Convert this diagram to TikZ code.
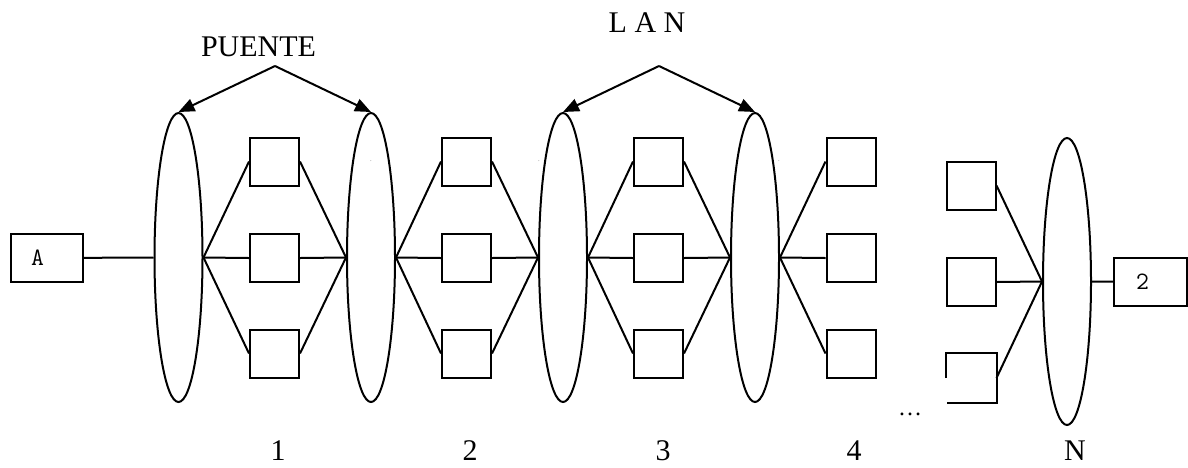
\documentclass[tikz,border=0pt]{standalone}
\usepackage{fontspec}
\setmainfont{Liberation Serif}
\usetikzlibrary{shapes.geometric,arrows.meta}

\begin{document}
\begin{tikzpicture}[x=1pt,y=-1pt,line width=2pt,
    lan/.style={draw,ellipse,inner sep=0pt,minimum width=48pt,minimum height=289pt},
    host/.style={draw,rectangle,inner sep=0pt,minimum width=49pt,minimum height=48pt},
    term/.style={draw,rectangle,inner ysep=0pt,minimum height=48pt,align=left,
      font=\fontsize{25}{27}\selectfont\ttfamily\addfontfeatures{FakeBold=2}},
    lbl/.style={inner sep=0pt,font=\fontsize{30}{34}\selectfont},
    tip/.style={-{Triangle[length=16pt,width=13pt]}}]
      \useasboundingbox (0,0) rectangle (1188,467);

      % the LANs
      \node [lan] (e1) at (178.5,257.5) {};
      \node [lan] (e2) at (371,257.5) {};
      \node [lan] (e3) at (563,257.5) {};
      \node [lan] (e4) at (755,257.5) {};
      \node [lan, minimum height=287pt] (eN) at (1067,281.5) {};

      % end stations
      \node [term, inner xsep=20pt, text width=32pt] (a) at (47,258) {A};
      \node [term, inner xsep=22pt, text width=29pt] (z) at (1150.5,282) {2};

      % bridges between the LANs
      \node [host] (h11) at (274.5,161.5) {};
      \node [host] (h12) at (274.5,258) {};
      \node [host] (h13) at (274.5,353.5) {};
      \node [host] (h21) at (466.5,161.5) {};
      \node [host] (h22) at (466.5,258) {};
      \node [host] (h23) at (466.5,353.5) {};
      \node [host] (h31) at (658.5,161.5) {};
      \node [host] (h32) at (658.5,258) {};
      \node [host] (h33) at (658.5,353.5) {};
      \node [host] (h41) at (851,161.5) {};
      \node [host] (h42) at (851,258) {};
      \node [host] (h43) at (851,353.5) {};
      \node [host] (r1) at (971,185.5) {};
      \node [host] (r2) at (971,282) {};
      \node [host, draw=none] (r3) at (971,378) {};
      \draw (r3.west) -- (r3.north west) -- (r3.north east) -- (r3.south east) -- ([xshift=1pt]r3.south west);

      \draw (a) -- (e1.west);
      \draw (e1.east) -- (h11.west);
      \draw (e1.east) -- (h12.west);
      \draw (e1.east) -- (h13.west);
      \draw (h11.east) -- (e2.west);
      \draw (h12.east) -- (e2.west);
      \draw (h13.east) -- (e2.west);
      \draw (e2.east) -- (h21.west);
      \draw (e2.east) -- (h22.west);
      \draw (e2.east) -- (h23.west);
      \draw (h21.east) -- (e3.west);
      \draw (h22.east) -- (e3.west);
      \draw (h23.east) -- (e3.west);
      \draw (e3.east) -- (h31.west);
      \draw (e3.east) -- (h32.west);
      \draw (e3.east) -- (h33.west);
      \draw (h31.east) -- (e4.west);
      \draw (h32.east) -- (e4.west);
      \draw (h33.east) -- (e4.west);
      \draw (e4.east) -- (h41.west);
      \draw (e4.east) -- (h42.west);
      \draw (e4.east) -- (h43.west);
      \draw (r1.east) -- (eN.west);
      \draw (r2.east) -- (eN.west);
      \draw (r3.east) -- (eN.west);
      \draw (eN.east) -- (z);

      % labels on top
      \node [lbl] (puente) at (258.5,47) {PUENTE};
      \node [lbl] (lan) at (647,23) {L A N};
      \coordinate (p) at (275,66);
      \coordinate (q) at (659,66);
      \draw [tip] (p) -- (e1.north);
      \draw [tip] (p) -- (e2.north);
      \draw [tip] (q) -- (e3.north);
      \draw [tip] (q) -- (e4.north);

      \node [font=\tiny] (d2) at (371,161) {.};
      \node [font=\tiny] (d3) at (539,161) {.};
      \node [font=\tiny] (d4) at (779,161) {.};

      % numbering
      \node [lbl] (n1) at (278,451) {1};
      \node [lbl] (n2) at (470,451) {2};
      \node [lbl] (n3) at (663,451) {3};
      \node [lbl] (n4) at (854,451) {4};
      \node [lbl] (nN) at (1075,451) {N};
      \node [lbl, font=\fontsize{24}{26}\selectfont] (dots) at (910,414) {\dots};
    \end{tikzpicture}
\end{document}
